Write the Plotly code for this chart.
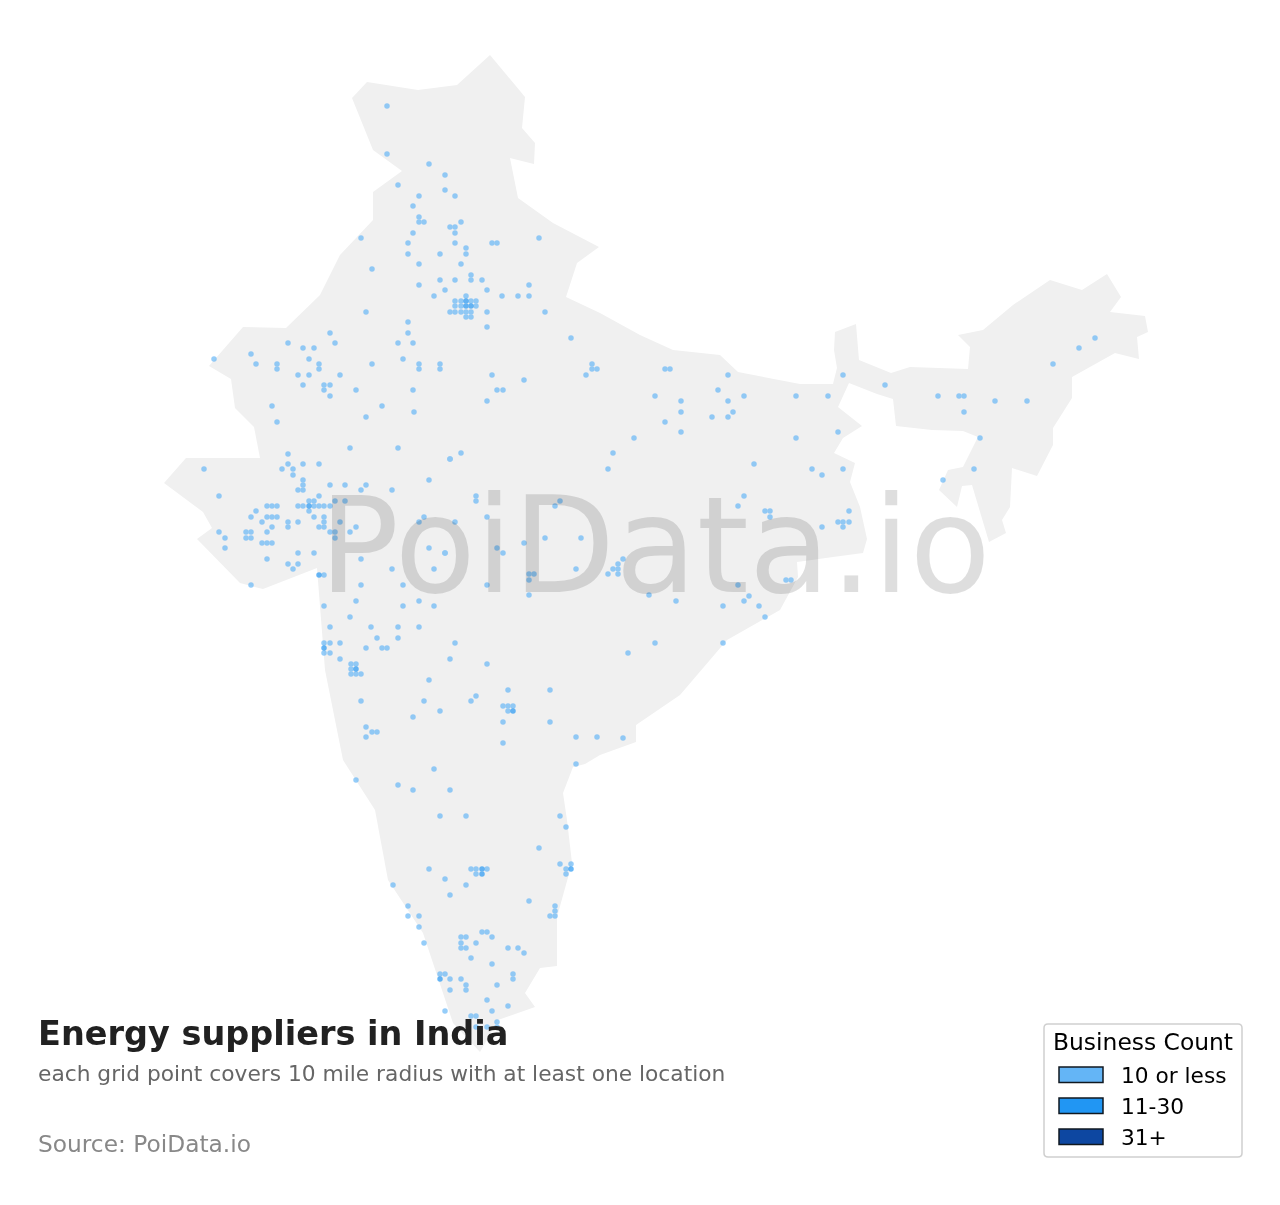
import plotly.graph_objs as go

outline_x = [490, 525, 522, 535, 534, 510, 518, 553, 599, 577, 566, 600, 640, 673, 720, 738, 800, 833, 837, 834, 835, 856,
             859, 891, 910, 968, 970, 958, 983, 1013, 1050, 1082, 1107, 1121, 1110, 1145, 1148, 1137, 1139, 1115, 1072,
             1072, 1053, 1053, 1037, 1012, 1010, 1002, 1006, 989, 972, 962, 957, 939, 948, 963, 978, 963, 932, 896, 893,
             877, 849, 838, 862, 843, 834, 855, 850, 860, 867, 863, 833, 797, 798, 780, 727, 680, 636, 636, 600, 585, 573,
             563, 567, 571, 572, 557, 557, 540, 525, 535, 498, 480, 453, 423, 388, 375, 343, 325, 320, 317, 263, 240, 197,
             212, 203, 164, 186, 260, 254, 235, 231, 209, 243, 286, 320, 340, 373, 373, 402, 373, 352, 367, 418, 457]
outline_y = [55, 97, 128, 143, 164, 158, 198, 223, 247, 263, 297, 313, 335, 350, 355, 372, 384, 384, 368, 350, 332, 324,
             360, 373, 367, 369, 347, 335, 330, 305, 280, 290, 274, 297, 312, 316, 332, 337, 359, 353, 377,
             398, 428, 445, 476, 468, 507, 520, 533, 542, 485, 486, 507, 490, 470, 467, 437, 431, 430, 426, 399,
             394, 383, 407, 426, 438, 453, 463, 482, 507, 539, 553, 557, 562, 577, 610, 640, 695, 725, 742, 755, 764, 767,
             793, 820, 860, 863, 917, 966, 968, 993, 1007, 1020, 1052, 1023, 933, 880, 810, 760, 670, 610, 568, 589, 583, 539,
             528, 512, 483, 458, 458, 427, 408, 379, 366, 327, 328, 295, 255, 220, 192, 171, 150, 98, 82, 90, 85]

low_x = [387, 387, 429, 445, 398, 445, 455, 419, 413, 419, 419, 424, 461, 450, 455, 455, 413, 361, 408, 455, 492, 497, 539,
         466, 466, 408, 440, 419, 461, 372, 471, 440, 455, 471, 482, 419, 529, 445, 487, 434, 466, 502, 518, 529,
         455, 461, 471, 476, 455, 461, 476, 450, 455, 461, 466, 471, 487, 545, 366, 466, 471, 408, 487, 408, 571,
         330, 288, 335, 398, 413, 303, 314, 251, 214, 309, 403, 256, 277, 319, 372, 419, 440, 277, 319, 419, 440,
         298, 309, 340, 303, 324, 330, 324, 356, 413, 330, 272, 382, 414, 366, 277, 350, 398, 288, 450, 288, 303,
         319, 204, 282, 293, 293, 303, 429, 303, 330, 345, 366, 219, 319, 298, 303, 361, 392, 309, 314, 335, 345,
         267, 272, 277, 298, 303, 314, 319, 324, 330, 256, 309, 251, 267, 272, 277, 314, 324, 424, 262, 288, 298, 324,
         340, 419, 455, 272, 288, 319, 324, 356, 219, 246, 251, 267, 330, 335, 350, 225, 246, 251, 335, 262, 267, 272,
         225, 429, 298, 314, 445, 267, 361, 288, 298, 293, 392, 434, 324, 251, 361, 403, 356, 419, 324, 403, 434, 350,
         330, 371, 398, 419, 377, 398, 324, 330, 340, 455, 366, 382, 387, 324, 330, 340, 450, 351, 356, 487, 351, 351,
         356, 361, 429, 508, 550, 476, 361, 424, 471, 503, 508, 513, 440, 508, 413, 503, 550, 366, 372, 377, 366, 576,
         597, 623, 503, 576, 434, 356, 398, 413, 450, 440, 466, 560, 566, 539, 560, 571, 429, 471, 476, 487, 566, 476,
         566, 445, 393, 466, 450, 529, 408, 555, 555, 408, 419, 550, 555, 419, 424, 482, 487, 461, 466, 492, 461, 476,
         461, 466, 508, 518, 524, 471, 492, 440, 445, 513, 450, 461, 513, 466, 497, 450, 466, 487, 508, 445, 492, 471,
         476, 497, 476, 487, 497, 592, 586, 592, 597, 665, 670, 728, 492, 524, 497, 503, 718, 655,
         487, 681, 728, 681, 733, 712, 728, 665, 681, 634, 613, 461, 450, 608, 476, 476, 560, 555, 738, 487, 524,
         545, 581, 497, 503, 445, 623, 618, 613, 618, 576, 608, 618, 529, 534, 529, 487, 738, 529, 649, 676, 723, 843,
         885, 744, 796, 828, 938, 959, 964, 995, 1027, 964, 1053, 1079, 1095, 980, 974, 943, 838, 796, 754, 812, 843,
         822, 744, 765, 770, 770, 849, 838, 843, 849, 822, 843, 786, 791, 749, 744, 759, 765, 655, 628, 723]
low_y = [106, 154, 164, 175, 185, 190, 196, 196, 206, 217, 222, 222, 222, 227, 227, 233, 233, 238, 243, 243, 243, 243, 238,
         248, 254, 254, 254, 264, 264, 269, 275, 280, 280, 280, 280, 285, 285, 290, 290, 296, 296, 296, 296, 296,
         301, 301, 301, 301, 306, 306, 306, 312, 312, 312, 312, 312, 312, 312, 312, 317, 317, 322, 327, 333, 338,
         333, 343, 343, 343, 343, 348, 348, 354, 359, 359, 359, 364, 364, 364, 364, 364, 364, 369, 369, 369, 369,
         375, 375, 375, 385, 385, 385, 390, 390, 390, 396, 406, 406, 412, 417, 422, 448, 448, 454, 459, 464, 464,
         464, 469, 469, 469, 475, 480, 480, 485, 485, 485, 485, 496, 496, 490, 490, 490, 490, 501, 501, 501, 501,
         506, 506, 506, 506, 506, 506, 506, 506, 506, 511, 511, 517, 517, 517, 517, 517, 517, 517, 522, 522, 522, 522,
         522, 522, 522, 527, 527, 527, 527, 527, 532, 532, 532, 532, 532, 532, 532, 538, 538, 538, 538, 543, 543, 543,
         548, 548, 553, 553, 553, 559, 559, 564, 564, 569, 569, 569, 575, 585, 585, 585, 601, 601, 606, 606, 606, 617,
         627, 627, 627, 627, 638, 638, 643, 643, 643, 643, 648, 648, 648, 653, 653, 659, 659, 664, 664, 664, 669, 674,
         674, 674, 680, 690, 690, 696, 701, 701, 701, 706, 706, 706, 711, 711, 717, 722, 722, 727, 732, 732, 737, 737,
         737, 738, 743, 764, 769, 780, 785, 790, 790, 816, 816, 816, 827, 848, 864, 864, 869, 869, 869, 869, 869, 874,
         874, 879, 885, 885, 895, 901, 906, 906, 911, 916, 916, 916, 916, 927, 943, 932, 932, 937, 937, 937, 943, 943,
         948, 948, 948, 948, 953, 958, 964, 974, 974, 974, 979, 979, 979, 985, 985, 990, 990, 1000, 1006, 1011, 1011, 1016,
         1016, 1022, 1027, 1027, 1027, 364, 375, 369, 369, 369, 369, 375, 375, 380, 390, 390, 390, 396,
         401, 401, 401, 412, 412, 417, 417, 422, 432, 438, 453, 453, 459, 469, 496, 501, 501, 506, 506, 517, 543,
         538, 538, 548, 553, 553, 559, 564, 569, 569, 569, 574, 574, 574, 574, 580, 585, 585, 595, 595, 601, 606, 375,
         385, 396, 396, 396, 396, 396, 396, 401, 401, 412, 364, 348, 338, 438, 469, 480, 432, 438, 464, 469, 469,
         475, 496, 511, 511, 517, 511, 522, 522, 522, 527, 527, 580, 580, 596, 601, 606, 617, 643, 653, 643]

mid_x = [466, 466, 471, 309, 319, 324, 356, 513, 482, 482, 571, 440]
mid_y = [301, 306, 306, 506, 575, 648, 669, 711, 869, 874, 869, 979]
high_x = []
high_y = []

legend_labels = ["10 or less", "11-30", "31+"]
legend_colors = ["#64B5F6", "#2196F3", "#0D47A1"]

FONT = "DejaVu Sans"

fig = go.Figure()
fig.add_trace(go.Scatter(x=outline_x, y=outline_y, mode="lines", fill="toself", fillcolor="#f0f0f0",
                         line=dict(width=0), hoverinfo="skip"))

for xs, ys, color in zip([low_x, mid_x, high_x], [low_y, mid_y, high_y], legend_colors):
    fig.add_trace(go.Scatter(x=xs, y=ys, mode="markers", opacity=0.68,
                             marker=dict(size=5.5, color=color, line=dict(width=0))))

# watermark sits on top of the points
fig.add_annotation(x=655, y=546, text="PoiData.io", showarrow=False,
                   font=dict(family=FONT, size=133, color="rgba(0,0,0,0.13)"))

fig.add_annotation(x=36, y=1033, text="<b>Energy suppliers in India</b>", showarrow=False, xanchor="left",
                   font=dict(family=FONT, size=33.5, color="#212121"))
fig.add_annotation(x=36, y=1073, text="each grid point covers 10 mile radius with at least one location",
                   showarrow=False, xanchor="left", font=dict(family=FONT, size=21.75, color="#666666"))
fig.add_annotation(x=36, y=1143, text="Source: PoiData.io", showarrow=False, xanchor="left",
                   font=dict(family=FONT, size=23.3, color="#888888"))

# legend box
fig.add_shape(type="path", path="M1048,1024 H1238 Q1242,1024 1242,1028 V1153 Q1242,1157 1238,1157 H1048 "
                                "Q1044,1157 1044,1153 V1028 Q1044,1024 1048,1024 Z",
              fillcolor="white", line=dict(color="#d0d0d0", width=1.5))
fig.add_annotation(x=1051, y=1042, text="Business Count", showarrow=False, xanchor="left",
                   font=dict(family=FONT, size=23.4, color="black"))
for i, label in enumerate(legend_labels):
    row = 1075 + i * 31
    fig.add_shape(type="rect", x0=1059, x1=1103, y0=row - 8, y1=row + 7.5, fillcolor=legend_colors[i],
                  line=dict(color="#101820", width=1.5))
    fig.add_annotation(x=1119, y=row, text=label, showarrow=False, xanchor="left",
                       font=dict(family=FONT, size=21.7, color="black"))

# page has an 8px body margin, the ranges make up for it
fig.update_layout(width=1264, height=1189, margin=dict(l=0, r=0, t=0, b=0), showlegend=False,
                  paper_bgcolor="white", plot_bgcolor="white", font=dict(family=FONT))
fig.update_xaxes(range=[8, 1272], visible=False)
fig.update_yaxes(range=[1197, 8], visible=False)
fig.write_html("out.html")
